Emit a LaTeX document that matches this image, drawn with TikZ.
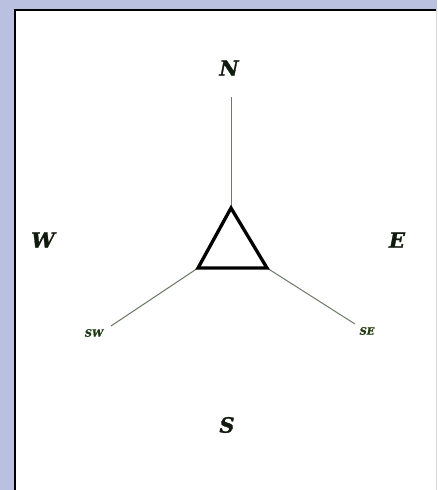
\documentclass[tikz,border=0pt]{standalone}
\usepackage{fontspec}
\newfontface\labface[FakeBold=1.2]{DejaVu Serif Bold Italic}
\definecolor{bgblue}{HTML}{B9C0E0}
\definecolor{wire}{HTML}{6E7A66}
\definecolor{dgreen}{HTML}{1F3A12}
\definecolor{nearblack}{HTML}{111A0E}
\tikzset{
  big/.style={font=\labface\fontsize{21}{21}\selectfont, text=nearblack, inner sep=0pt},
  small/.style={font=\labface\fontsize{10}{10}\selectfont, text=dgreen, inner sep=0pt},
  wireline/.style={draw=wire, line width=1pt},
  tri/.style={draw=black, line width=3.3pt, line join=miter}
}
\begin{document}
\begin{tikzpicture}[x=1pt,y=-1pt]
\useasboundingbox (0,0) rectangle (437,490);
\fill[bgblue] (0,0) rectangle (437,490);
\fill[white] (15,10) rectangle (436,490);
\draw[black, line width=2.5pt] (15,490) -- (15,10) -- (436,10);
\draw[black!15, line width=0.6pt] (436,10) -- (436,490);
\coordinate (apex) at (231,208);
\coordinate (bl) at (198,268);
\coordinate (br) at (267,268);
\coordinate (ntip) at (231,97);
\coordinate (swtip) at (111,326);
\coordinate (setip) at (355,324);
\draw[wireline] (apex) -- (ntip);
\draw[wireline] (bl) -- (swtip);
\draw[wireline] (br) -- (setip);
\draw[tri] (apex) -- (bl) -- (br) -- cycle;
\node[big] (N) at (229,68) {N};
\node[big] (W) at (43,240) {W};
\node[big] (E) at (397,240) {E};
\node[big] (S) at (227,425) {S};
\node[small] (SW) at (94,333) {SW};
\node[small] (SE) at (367,331) {SE};
\end{tikzpicture}
\end{document}
